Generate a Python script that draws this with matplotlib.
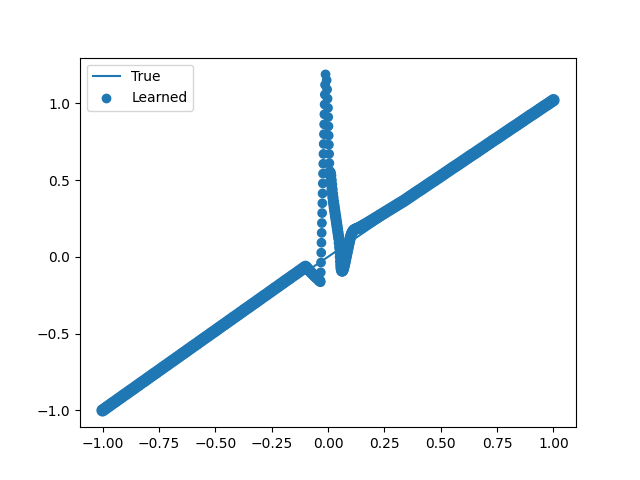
import numpy as np
import matplotlib
matplotlib.use("Agg")
import matplotlib.pyplot as plt

# True function (identity) endpoints
true_x = [-1.0, 1.0]
true_y = [-1.0, 1.0]

# Learned: left straight part (x = -1.00 ... -0.10, step 0.01)
left_x = [round(-1.00 + 0.01 * i, 2) for i in range(91)]
left_y = [-1.000, -0.990, -0.979, -0.969, -0.958, -0.948, -0.938, -0.927, -0.917, -0.906,
          -0.896, -0.886, -0.875, -0.865, -0.855, -0.844, -0.834, -0.823, -0.813, -0.803,
          -0.792, -0.782, -0.771, -0.761, -0.751, -0.740, -0.730, -0.719, -0.709, -0.699,
          -0.688, -0.678, -0.668, -0.657, -0.647, -0.636, -0.626, -0.616, -0.605, -0.595,
          -0.584, -0.574, -0.564, -0.553, -0.543, -0.532, -0.522, -0.512, -0.501, -0.491,
          -0.481, -0.470, -0.460, -0.449, -0.439, -0.429, -0.418, -0.408, -0.397, -0.387,
          -0.377, -0.366, -0.356, -0.345, -0.335, -0.325, -0.314, -0.304, -0.294, -0.283,
          -0.273, -0.262, -0.252, -0.242, -0.231, -0.221, -0.210, -0.200, -0.190, -0.179,
          -0.169, -0.158, -0.148, -0.138, -0.127, -0.117, -0.107, -0.096, -0.086, -0.075,
          -0.065]

# Learned: dip before the spike
dip_x = [-0.096, -0.092, -0.088, -0.084, -0.080, -0.076, -0.072, -0.068, -0.064, -0.060,
         -0.056, -0.052, -0.048, -0.044, -0.040, -0.036]
dip_y = [-0.068, -0.074, -0.080, -0.087, -0.094, -0.100, -0.106, -0.112, -0.118, -0.124,
         -0.129, -0.134, -0.139, -0.145, -0.151, -0.158]

# Learned: the spike (discrete points)
spike_x = [-0.033, -0.032, -0.031, -0.030, -0.029, -0.028, -0.027, -0.026, -0.025, -0.024,
           -0.023, -0.022, -0.021, -0.020, -0.019, -0.018, -0.017, -0.016, -0.015, -0.014,
           -0.013, -0.011,
           -0.006, -0.004, -0.002, 0.000, 0.001, 0.002, 0.003, 0.004, 0.005, 0.006, 0.008]
spike_y = [-0.165, -0.101, -0.037, 0.027, 0.092, 0.156, 0.220, 0.285, 0.349, 0.413,
           0.478, 0.542, 0.606, 0.670, 0.735, 0.799, 0.863, 0.928, 0.992, 1.056,
           1.120, 1.188,
           1.150, 1.090, 1.030, 0.970, 0.910, 0.850, 0.790, 0.730, 0.670, 0.610, 0.560]

# Learned: the V after the spike
v_x = [0.010, 0.012, 0.014, 0.016, 0.018, 0.020, 0.022, 0.024, 0.026, 0.028, 0.030,
       0.032, 0.034, 0.036, 0.038, 0.040, 0.042, 0.044, 0.046, 0.048, 0.050, 0.052,
       0.054, 0.055, 0.056, 0.057, 0.058, 0.060, 0.062, 0.064, 0.066,
       0.068, 0.070, 0.072, 0.074, 0.076, 0.078, 0.080, 0.082, 0.084, 0.086, 0.088,
       0.090, 0.092, 0.094, 0.096, 0.098, 0.100, 0.103, 0.106, 0.109, 0.112, 0.115,
       0.118, 0.121, 0.124, 0.127, 0.130, 0.133, 0.136]
v_y = [0.548, 0.530, 0.500, 0.470, 0.440, 0.410, 0.385, 0.360, 0.340, 0.320, 0.300,
       0.280, 0.260, 0.240, 0.220, 0.200, 0.180, 0.160, 0.140, 0.120, 0.090, 0.060,
       0.030, 0.000, -0.030, -0.055, -0.075, -0.088, -0.093, -0.092, -0.088,
       -0.080, -0.070, -0.058, -0.045, -0.032, -0.018, -0.004, 0.010, 0.024, 0.038, 0.052,
       0.066, 0.080, 0.094, 0.107, 0.120, 0.132, 0.146, 0.157, 0.165, 0.171, 0.175,
       0.178, 0.180, 0.182, 0.184, 0.186, 0.187, 0.188]

# Learned: right straight part (x = 0.14 ... 1.00, step 0.01)
right_x = [round(0.14 + 0.01 * i, 2) for i in range(87)]
right_y = [0.190, 0.198, 0.207, 0.215, 0.224, 0.233, 0.242, 0.251, 0.260, 0.269,
           0.278, 0.287, 0.296, 0.305, 0.314, 0.323, 0.332, 0.341, 0.350, 0.359,
           0.368, 0.378, 0.388, 0.398, 0.408, 0.418, 0.428, 0.437, 0.447, 0.457,
           0.467, 0.477, 0.487, 0.496, 0.506, 0.516, 0.526, 0.536, 0.546, 0.556,
           0.566, 0.576, 0.586, 0.595, 0.605, 0.615, 0.625, 0.635, 0.645, 0.655,
           0.665, 0.674, 0.684, 0.694, 0.704, 0.714, 0.724, 0.734, 0.744, 0.754,
           0.764, 0.773, 0.783, 0.793, 0.803, 0.813, 0.823, 0.833, 0.843, 0.852,
           0.862, 0.872, 0.882, 0.892, 0.902, 0.912, 0.922, 0.931, 0.941, 0.951,
           0.961, 0.971, 0.981, 0.990, 1.000, 1.010, 1.020]

learned_x = left_x + dip_x + spike_x + v_x + right_x
learned_y = left_y + dip_y + spike_y + v_y + right_y

# marker sizes: dense runs of points render as a slightly wider band
sizes = ([62] * len(left_x) + [50] * len(dip_x) + [36] * len(spike_x)
         + [50] * len(v_x) + [62] * len(right_x))

fig, ax = plt.subplots(figsize=(6.4, 4.8), dpi=100)
ax.plot(true_x, true_y, label="True")
ax.scatter(learned_x, learned_y, s=sizes, label="Learned")
leg = ax.legend(loc="upper left")
leg.legend_handles[1].set_sizes([36])
fig.savefig("out.png")
